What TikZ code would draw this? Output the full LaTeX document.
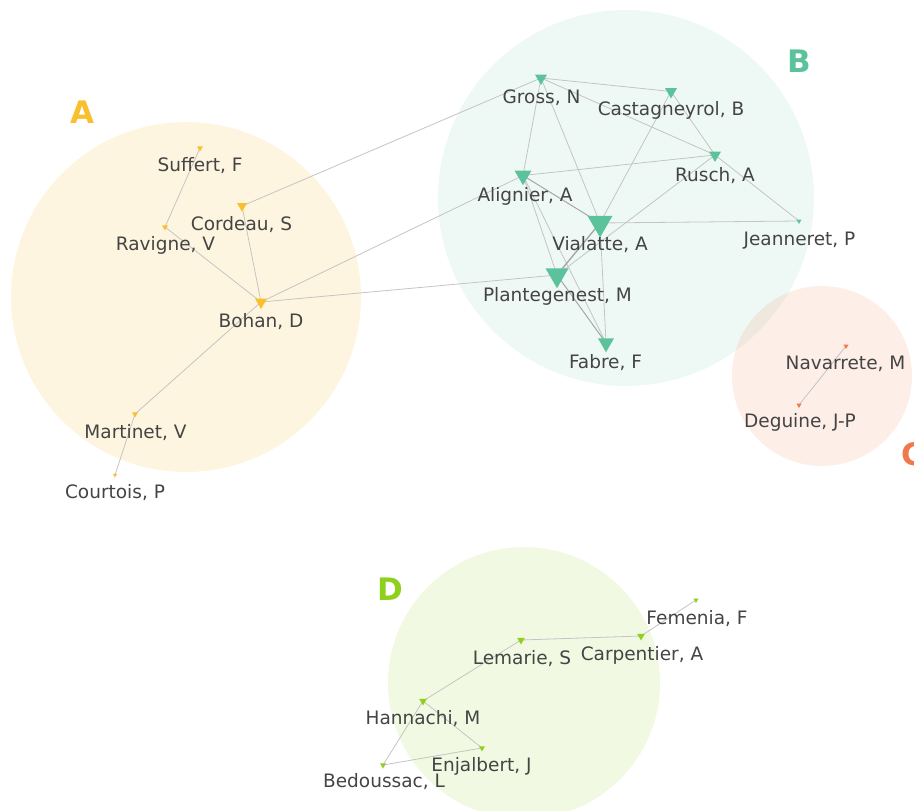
\documentclass[tikz,border=0pt]{standalone}
\usepackage{fontspec}
\setmainfont{DejaVu Sans}
\usetikzlibrary{shapes.geometric}
\definecolor{colA}{HTML}{F9BF2C}
\definecolor{colB}{HTML}{5CC29C}
\definecolor{colC}{HTML}{F0784B}
\definecolor{colD}{HTML}{8ED11C}
\definecolor{txt}{HTML}{444444}
\definecolor{edge}{HTML}{C4C4C4}
\pgfdeclarelayer{circles}
\pgfdeclarelayer{edges}
\pgfsetlayers{circles,edges,main}
\tikzset{
  tri/.style={regular polygon, regular polygon sides=3, shape border rotate=180,
    inner sep=0pt, draw=none, minimum size=#1},
  lbl/.style={anchor=base, text=txt, inner sep=0pt, font=\fontsize{18.5}{20}\selectfont},
  grp/.style={anchor=base, inner sep=0pt, font=\fontsize{31}{32}\selectfont\bfseries},
  cluster/.style={draw=none, fill opacity=#1},
  lnk/.style={draw=edge, line width=0.8pt},
  lnkd/.style={draw=gray!70, line width=1pt},
}
\begin{document}
\begin{tikzpicture}[x=1pt,y=-1pt]
\useasboundingbox (0,0) rectangle (914,811);
% clusters
\begin{pgfonlayer}{circles}
\fill[colA, cluster=0.15] (186,297) circle[radius=175];
\fill[colB, cluster=0.10] (626,198) circle[radius=188];
\fill[colC, cluster=0.13] (822,376) circle[radius=90];
\fill[colD, cluster=0.12] (524,683) circle[radius=136];
\end{pgfonlayer}
% group letters
\node[grp, text=colA] (gA) at (82,123) {A};
\node[grp, text=colB] (gB) at (799,72) {B};
\node[grp, text=colC, anchor=base west] (gC) at (901,465) {C};
\node[grp, text=colD] (gD) at (390,600) {D};
% cluster A nodes
\node[tri=7, fill=colA] (suffert) at (200,148) {};
\node[tri=11.5, fill=colA] (cordeau) at (242,206) {};
\node[tri=7, fill=colA] (ravigne) at (165,227) {};
\node[tri=14, fill=colA] (bohan) at (261,302) {};
\node[tri=7, fill=colA] (martinet) at (135,414) {};
\node[tri=5, fill=colA] (courtois) at (115,475) {};
\node[lbl] (suffertL) at (200,171) {Suffert, F};
\node[lbl] (cordeauL) at (241.5,230) {Cordeau, S};
\node[lbl] (ravigneL) at (165.5,250) {Ravigne, V};
\node[lbl] (bohanL) at (261,327) {Bohan, D};
\node[lbl] (martinetL) at (135.5,438) {Martinet, V};
\node[lbl] (courtoisL) at (115,498) {Courtois, P};
% cluster B nodes
\node[tri=14, fill=colB] (gross) at (541,78) {};
\node[tri=14, fill=colB] (castagneyrol) at (671,91.5) {};
\node[tri=14, fill=colB] (rusch) at (715,155) {};
\node[tri=19.5, fill=colB] (alignier) at (523,175.5) {};
\node[tri=29, fill=colB] (vialatte) at (600,223) {};
\node[tri=6, fill=colB] (jeanneret) at (799,221) {};
\node[tri=26.5, fill=colB] (plantegenest) at (557,275) {};
\node[tri=18.5, fill=colB] (fabre) at (606,343) {};
\node[lbl] (grossL) at (541.5,103) {Gross, N};
\node[lbl] (castagneyrolL) at (671,115) {Castagneyrol, B};
\node[lbl] (ruschL) at (715,181) {Rusch, A};
\node[lbl] (alignierL) at (525,201) {Alignier, A};
\node[lbl] (vialatteL) at (600,250) {Vialatte, A};
\node[lbl] (jeanneretL) at (799.5,245) {Jeanneret, P};
\node[lbl] (plantegenestL) at (557.5,301) {Plantegenest, M};
\node[lbl] (fabreL) at (605.5,368) {Fabre, F};
% cluster C nodes
\node[tri=6, fill=colC] (navarrete) at (846,346) {};
\node[tri=6, fill=colC] (deguine) at (799,405) {};
\node[lbl] (navarreteL) at (845.5,369) {Navarrete, M};
\node[lbl] (deguineL) at (800,427) {Deguine, J-P};
% cluster D nodes
\node[tri=6, fill=colD] (femenia) at (696,600) {};
\node[tri=9, fill=colD] (carpentier) at (641,636) {};
\node[tri=9, fill=colD] (lemarie) at (521,640) {};
\node[tri=9, fill=colD] (hannachi) at (423,701) {};
\node[tri=7, fill=colD] (enjalbert) at (482,748) {};
\node[tri=7, fill=colD] (bedoussac) at (383,765) {};
\node[lbl] (femeniaL) at (697,624) {Femenia, F};
\node[lbl] (carpentierL) at (642,660) {Carpentier, A};
\node[lbl] (lemarieL) at (522,664) {Lemarie, S};
\node[lbl] (hannachiL) at (423,724) {Hannachi, M};
\node[lbl] (enjalbertL) at (481.5,771) {Enjalbert, J};
\node[lbl] (bedoussacL) at (384,787) {Bedoussac, L};
% edges
\begin{pgfonlayer}{edges}
\draw[lnk] (suffert.center) -- (ravigne.center);
\draw[lnk] (ravigne.center) -- (bohan.center);
\draw[lnk] (cordeau.center) -- (bohan.center);
\draw[lnk] (bohan.center) -- (martinet.center);
\draw[lnk] (martinet.center) -- (courtois.center);
\draw[lnk] (cordeau.center) -- (gross.center);
\draw[lnk] (bohan.center) -- (alignier.center);
\draw[lnk] (bohan.center) -- (plantegenest.center);
\draw[lnk] (gross.center) -- (castagneyrol.center);
\draw[lnk] (gross.center) -- (rusch.center);
\draw[lnk] (gross.center) -- (alignier.center);
\draw[lnk] (gross.center) -- (vialatte.center);
\draw[lnk] (castagneyrol.center) -- (rusch.center);
\draw[lnk] (castagneyrol.center) -- (vialatte.center);
\draw[lnk] (rusch.center) -- (alignier.center);
\draw[lnk] (rusch.center) -- (jeanneret.center);
\draw[lnk] (rusch.center) -- (plantegenest.center);
\draw[lnkd] (alignier.center) -- (vialatte.center);
\draw[lnk] (alignier.center) -- (plantegenest.center);
\draw[lnk] (alignier.center) -- (fabre.center);
\draw[lnk] (vialatte.center) -- (jeanneret.center);
\draw[lnkd, line width=1.4pt] (vialatte.center) -- (plantegenest.center);
\draw[lnk] (vialatte.center) -- (fabre.center);
\draw[lnkd] (plantegenest.center) -- (fabre.center);
\draw[lnk] (navarrete.center) -- (deguine.center);
\draw[lnk] (femenia.center) -- (carpentier.center);
\draw[lnk] (carpentier.center) -- (lemarie.center);
\draw[lnk] (lemarie.center) -- (hannachi.center);
\draw[lnk] (hannachi.center) -- (enjalbert.center);
\draw[lnk] (hannachi.center) -- (bedoussac.center);
\draw[lnk] (bedoussac.center) -- (enjalbert.center);
\end{pgfonlayer}
\end{tikzpicture}
\end{document}
